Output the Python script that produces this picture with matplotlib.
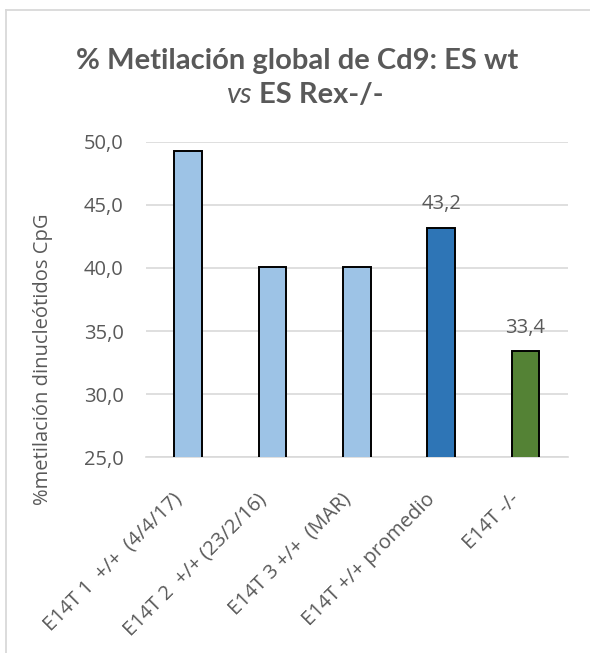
"""Bar chart: global CpG methylation of Cd9, ES wt vs ES Rex-/-."""

import matplotlib.pyplot as plt
from matplotlib.lines import Line2D
from matplotlib.ticker import FuncFormatter
from matplotlib.transforms import ScaledTranslation

categories = [
    "E14T 1  +/+  (4/4/17)",
    "E14T 2  +/+ (23/2/16)",
    "E14T 3 +/+  (MAR)",
    "E14T +/+ promedio",
    "E14T -/-",
]
values = [49.3, 40.1, 40.1, 43.2, 33.4]
bar_colors = ["#9DC3E6", "#9DC3E6", "#9DC3E6", "#2E75B6", "#548235"]
labelled = [3, 4]
y_ticks = [25, 30, 35, 40, 45, 50]

GREY = "#595959"
GRID = "#D9D9D9"
FS = 14.5

plt.rcParams["font.family"] = ["Open Sans", "DejaVu Sans"]

fig = plt.figure(figsize=(5.9, 6.53), dpi=100)
W, H = 590, 653
ax = fig.add_axes([146 / W, 1 - 457.3 / H, (567.7 - 146) / W, (457.3 - 141.7) / H])

x = range(len(categories))
ax.bar(x, values, width=0.33, color=bar_colors, edgecolor="black", linewidth=1.4, zorder=3)

ax.set_xlim(-0.5, len(categories) - 0.5)
ax.set_ylim(25, 50)
ax.set_yticks(y_ticks)
ax.yaxis.set_major_formatter(FuncFormatter(lambda v, _: f"{v:.1f}".replace(".", ",")))
ax.grid(axis="y", color=GRID, linewidth=1.2, zorder=0)
ax.set_axisbelow(True)
for side in ("top", "right", "left"):
    ax.spines[side].set_visible(False)
ax.spines["bottom"].set_color(GRID)
ax.spines["bottom"].set_linewidth(1.2)
ax.tick_params(axis="both", length=0, colors=GREY, labelsize=FS)
ax.tick_params(axis="y", pad=16)

ax.set_xticks(list(x))
ax.set_xticklabels(categories, rotation=45, ha="right", va="center",
                   rotation_mode="anchor", color=GREY, fontsize=FS)
ax.tick_params(axis="x", pad=0)
shift = ScaledTranslation(-9 / 100, -39 / 100, fig.dpi_scale_trans)
for lab in ax.get_xticklabels():
    lab.set_transform(lab.get_transform() + shift)

for i in labelled:
    ax.annotate(f"{values[i]:.1f}".replace(".", ","), (i, values[i]),
                xytext=(0, 17), textcoords="offset points",
                ha="center", va="center", color=GREY, fontsize=FS)

fig.text(43 / W, 1 - 359 / H, "%metilación dinucleótidos CpG", rotation=90,
         ha="center", va="center", color=GREY, fontsize=FS)

# title: first line bold, second line mixes italic "vs" with bold text
title_font = ["Lato", "DejaVu Sans"]
fig.text(297 / W, 1 - 69 / H, "% Metilación global de Cd9: ES wt", family=title_font,
         ha="center", va="baseline", color=GREY, fontsize=21, fontweight="bold")
fig.text(253 / W, 1 - 103 / H, "vs", family=title_font, ha="right", va="baseline",
         color=GREY, fontsize=21, fontstyle="italic")
fig.text(259 / W, 1 - 103 / H, "ES Rex-/-", family=title_font, ha="left", va="baseline",
         color=GREY, fontsize=21, fontweight="bold")

# chart frame edges
fig.add_artist(Line2D([6 / W, 6 / W], [0, 1 - 10 / H], color=GRID, linewidth=1.3))
fig.add_artist(Line2D([6 / W, 1], [1 - 10 / H, 1 - 10 / H], color=GRID, linewidth=1.3))

fig.savefig("out.png", dpi=100, facecolor="white")
